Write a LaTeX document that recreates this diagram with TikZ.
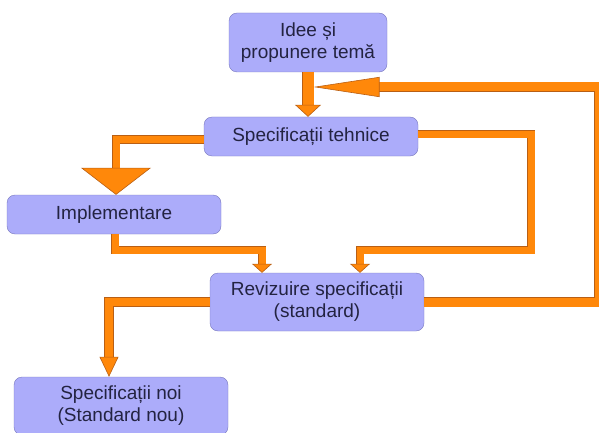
\documentclass[tikz,border=0pt]{standalone}
\usepackage{fontspec}
\setmainfont{Liberation Sans}
\usepackage{tikz}
\usetikzlibrary{arrows.meta}
\usetikzlibrary{positioning}
\definecolor{boxfill}{RGB}{172, 172, 250}
\definecolor{boxline}{RGB}{120, 120, 190}
\definecolor{boxtext}{RGB}{35, 35, 65}
\definecolor{flowfill}{RGB}{255, 136, 10}
\definecolor{flowline}{RGB}{185, 95, 20}
\tikzset{box/.style = {draw=boxline, fill=boxfill, rounded corners=8pt, align=center,
                       text=boxtext, font=\fontsize{19}{22}\selectfont,
                       minimum width=214pt, inner sep=0pt}}
\tikzset{flow/.style n args = {3}{line width=#1, draw=flowfill,
                                  -{Triangle[width=#2, length=#3, fill=flowfill, color=flowline, line width=0.6pt]},
                                  preaction={draw=flowline, line width=#1+1.2pt, -, shorten >=#3-1pt}}}

\begin{document}
\begin{tikzpicture}[x=1pt, y=-1pt]
      \useasboundingbox (0, 0) rectangle (599, 433);

      \node [box, minimum width=158pt, minimum height=59pt] (idee) at (308, 42.5) {Idee și\\propunere temă};
      \node [box, minimum height=39pt] (spec) at (311, 136.5) {Specificații tehnice};
      \node [box, minimum height=39pt] (impl) at (114, 214.5) {Implementare};
      \node [box, minimum height=58pt] (rev) at (317, 302) {Revizuire specificații\\(standard)};
      \node [box, minimum height=58pt] (noi) at (121, 406) {Specificații noi\\(Standard nou)};
      \coordinate (merge) at (313.5, 87);

      \draw [flow={11pt}{26pt}{12pt}] (idee.south) -- (idee.south |- spec.north);
      \draw [flow={9pt}{20pt}{66pt}] (rev.east) -- (599, 302) -- (599, 87) -- (merge);
      \draw [flow={7pt}{70pt}{27pt}] ([yshift=-3pt]spec.west) -| ([xshift=2pt]impl.north);
      \draw [flow={7pt}{20pt}{9pt}] ([xshift=1pt]impl.south) -- ++(0, 16) -| ([xshift=-55pt]rev.north);
      \draw [flow={7pt}{20pt}{9pt}] ([yshift=2.5pt]spec.east) -- ++(113, 0) -- ++(0, 116) -| ([xshift=43pt]rev.north);
      \draw [flow={8pt}{19pt}{20pt}] (rev.west) -| ([xshift=-12pt]noi.north);
\end{tikzpicture}
\end{document}
